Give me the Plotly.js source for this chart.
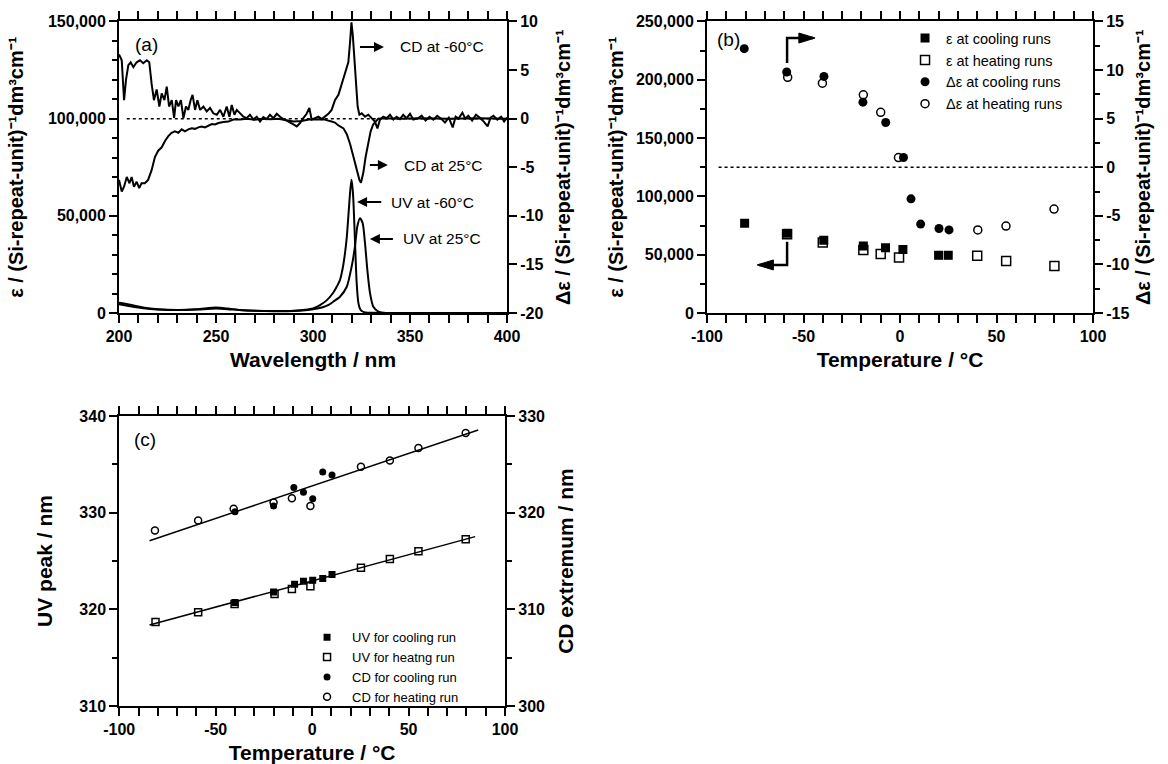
<!DOCTYPE html>
<html><head><meta charset="utf-8">
<script src="https://cdn.plot.ly/plotly-3.0.1.min.js"></script>
<style>html,body{margin:0;padding:0;background:#fff;}#chart{width:1168px;height:764px;}</style>
</head><body><div id="chart"></div>
<script>
// ---------- Panel (a): spectra ----------
const cd60Wl = [200.0,201.4,202.6,203.6,204.8,206.0,207.4,209.1,210.8,212.5,214.3,215.6,216.8,218.0,219.4,220.8,222.0,223.4,224.6,225.8,227.2,228.4,229.4,230.6,231.9,233.2,234.5,235.7,236.9,237.9,239.2,240.4,241.8,243.5,245.2,246.9,248.6,250.4,252.1,253.8,255.5,256.9,258.1,259.5,260.7,262.4,264.1,265.8,267.5,269.3,271.0,272.7,274.4,276.1,277.8,279.6,281.3,283.0,284.7,286.4,288.2,289.9,291.6,293.3,295.0,296.7,298.1,299.3,301.0,302.8,304.5,306.2,307.9,309.6,311.3,313.1,314.3,315.7,317.0,318.2,319.1,319.8,320.5,321.3,322.2,323.0,323.9,325.1,326.8,328.5,330.2,331.9,333.2,334.5,336.2,337.9,339.7,341.4,343.1,344.8,346.5,348.2,350.0,351.7,354.3,356,358,360,362,364,366,368,370,372,373.5,375,377,378.5,380,382,384,386,388,390,391.5,393,395,397,398.5,400];
const cd60Val = [6.6,6.0,1.9,4.0,5.5,5.8,5.3,5.8,6.0,5.7,6.0,5.8,3.6,1.9,3.0,1.25,2.6,1.9,3.3,1.25,1.9,0.07,1.9,1.25,1.9,0.05,1.25,0.9,1.9,2.45,0.9,1.9,0.9,1.25,0.75,1.1,0.55,0.4,0.9,0.2,1.25,0.2,1.4,0.4,0.9,0.5,0.2,0.05,0.4,-0.1,0.2,-0.3,0.15,-0.05,0.4,0.05,0.5,0.2,-0.05,-0.2,-0.45,-0.6,-0.8,-0.45,0.05,0.5,1.1,-0.1,0.05,0.2,-0.05,0.2,0.5,0.9,1.9,2.45,3.3,4.3,5.1,5.8,7.9,9.9,8.6,6.3,3.6,1.25,0.4,0.55,0.2,0.4,0.05,-0.3,-1.0,-0.1,0.2,0.05,0.4,-0.1,0.2,-0.05,0.4,0.05,0.5,-0.1,0.05,0.3,-0.2,0.2,-0.1,0.3,0.0,-0.4,0.1,-0.9,0.2,0.0,0.6,0.0,0.3,-0.2,0.4,0.1,-0.3,-0.8,0.1,0.3,-0.1,0.2,-0.3,0.1];
const cd25Wl = [200.0,201.4,202.6,204.0,205.4,206.5,207.7,209.1,210.4,211.6,213.3,215.0,216.8,218.5,220.2,222.0,223.7,225.4,227.1,228.8,230.6,232.3,234.0,235.7,237.4,239.2,240.9,242.6,244.3,246.0,247.8,249.5,251.2,253.8,256.4,258.9,262.4,266,270,274,278,282,286,290,294,298,302,306,309.6,311.3,313.1,315.7,317.4,319.1,320.8,322.5,323.9,324.7,325.9,327.1,328.5,329.7,331.0,332.4,333.6,338,345,355,370,385,400];
const cd25Val = [-6.3,-7.5,-7.0,-6.0,-6.65,-6.0,-7.0,-6.5,-7.15,-6.65,-6.65,-6.3,-5.3,-3.95,-3.3,-2.95,-2.3,-1.8,-1.45,-1.3,-1.45,-1.1,-1.3,-1.1,-1.0,-1.05,-0.9,-0.8,-0.9,-0.7,-0.55,-0.6,-0.45,-0.35,-0.3,-0.1,-0.1,0.0,-0.1,0.0,-0.05,0.0,-0.15,-0.3,-0.25,-0.1,-0.05,-0.1,-0.3,-0.4,-0.7,-1.0,-1.6,-2.6,-3.9,-5.3,-6.3,-6.6,-5.6,-3.95,-2.3,-1.3,-0.6,-0.25,0.0,0.05,0.0,0.05,0.0,0.05,0.0];
const uv60Wl = [200,203,206,210,215,220,230,240,250,256,262,270,280,290,296,300,303.6,307,310.3,312.2,313.9,315.3,316.5,317.4,318.2,319.1,319.8,320.3,320.8,321.6,322.5,323.4,324.2,325.1,327,330,340,400];
const uv60Val = [5300,4800,4200,3400,2500,2000,1600,1900,2800,2300,1600,1100,1000,1200,1700,2400,4100,6500,10300,13500,17000,23000,30900,39000,49600,62000,68500,65000,58000,37600,15400,5100,2200,1000,300,80,0,0];
const uv25Wl = [200,205,210,215,220,230,240,250,256,262,270,280,290,296,300,305,308,310.4,313.9,317.4,319.9,321.6,322.8,324.2,325.6,326.8,328.0,329.4,331.1,333.7,336,340,400];
const uv25Val = [4500,3600,2800,2200,1800,1500,1800,2300,2000,1500,1100,900,1000,1400,1900,3000,4200,5800,8400,13500,23800,34100,44400,48800,46200,35900,22100,10100,3200,700,200,0,0];
const zeroLineWl = [204, 400];
const zeroLineA = [0, 0];
const aLabelText = ['CD at -60°C', 'CD at 25°C', 'UV at -60°C', 'UV at 25°C'];
const aLabelWl = [344.3, 346.3, 339.8, 345.8];     // left edge of each label
const aArrowFarWl = [324.2, 329.3, 322.7, 329.3];  // arrow end away from label
const aArrowHeadAtLabel = [true, true, false, false];
const aArrowEps = [136900, 76150, 57100, 38080];
const aTickWl = [200, 250, 300, 350, 400];
const aTickEps = [0, 50000, 100000, 150000];
const aTickEpsText = ['0', '50,000', '100,000', '150,000'];
const aTickDe = [-20, -15, -10, -5, 0, 5, 10];
const aTickDeText = ['-20', '-15', '-10', '-5', '0', '5', '10'];

// ---------- Panel (b): epsilon vs temperature ----------
const epsCoolT = [-80.5, -58.5, -39.5, -19, -7.5, 1.5, 20, 25];
const epsCool = [77000, 68500, 62500, 57500, 56000, 54500, 49500, 49500];
const epsHeatT = [-58.5, -40, -19, -10, -0.5, 40, 55, 80];
const epsHeat = [67500, 60500, 54000, 50500, 47500, 49000, 44500, 40300];
const dEpsCoolT = [-80.7, -58.7, -39.4, -19.2, -7.4, 1.8, 5.7, 10.7, 20.2, 25.4];
const dEpsCool = [12.2, 9.8, 9.35, 6.7, 4.6, 1.0, -3.25, -5.85, -6.3, -6.45];
const dEpsHeatT = [-58.2, -40.2, -19, -10, -0.8, 40.3, 54.9, 79.8];
const dEpsHeat = [9.25, 8.65, 7.45, 5.65, 1.0, -6.45, -6.05, -4.3];
const zeroLineT = [-94, 100];
const zeroLineB = [0, 0];
const bArrowUpT = [-58.5, -58.5, -45];
const bArrowUpEps = [214300, 235800, 235800];
const bArrowDnT = [-58.5, -58.5, -73];
const bArrowDnEps = [61200, 41200, 41200];
const bArrowTipT = [-44, -74];          // where each bent arrow points to
const bArrowTipEps = [235800, 41200];
const tempTicks = [-100, -50, 0, 50, 100];
const tempTickText = ['-100', '-50', '0', '50', '100'];
const bTickEps = [0, 50000, 100000, 150000, 200000, 250000];
const bTickEpsText = ['0', '50,000', '100,000', '150,000', '200,000', '250,000'];
const bTickDe = [-15, -10, -5, 0, 5, 10, 15];
const bTickDeText = ['-15', '-10', '-5', '0', '5', '10', '15'];

// ---------- Panel (c): peak positions ----------
const uvCoolT = [-40, -20, -9.1, -4.5, 0.3, 5.5, 10.3];
const uvCool = [320.7, 321.8, 322.6, 322.9, 323.0, 323.2, 323.6];
const uvHeatT = [-81.2, -59.1, -40.2, -19.5, -10.5, -0.9, 25.3, 40.3, 55.1, 79.6];
const uvHeat = [318.7, 319.7, 320.55, 321.6, 322.1, 322.4, 324.3, 325.2, 326.0, 327.25];
const cdCoolT = [-40, -20, -9.5, -4.5, 0.3, 5.5, 10.3];
const cdCool = [320.1, 320.7, 322.6, 322.1, 321.45, 324.2, 323.9];
const cdHeatT = [-81.5, -59.1, -40.7, -20, -10.5, -0.9, 25.3, 40.3, 55.1, 79.6];
const cdHeat = [318.15, 319.2, 320.4, 321.05, 321.5, 320.7, 324.75, 325.4, 326.7, 328.25];
const fitCdT = [-84.3, 86.1];
const fitCd = [317.1, 328.55];
const fitUvT = [-84.3, 84.5];
const fitUv = [318.38, 327.52];
const cTickUv = [310, 320, 330, 340];
const cTickCd = [300, 310, 320, 330];

// ---------- styling ----------
const FONT = '"Liberation Sans", Arial, Helvetica, sans-serif';
const K = '#000';
const NB = '\u00a0';
const unitTxt = ' / (Si-repeat-unit)\u207b\u00b9dm\u00b3cm\u207b\u00b9';
const epsTitle = NB.repeat(7) + 'ε' + unitTxt;
const deTitle = 'Δε' + unitTxt;
const xPad = NB.repeat(5);

function ax(o) {
  return Object.assign({
    showline: true, linecolor: K, linewidth: 2,
    ticks: 'outside', ticklen: 8, tickwidth: 2, tickcolor: K,
    showgrid: false, zeroline: false, fixedrange: true,
    tickmode: 'array',
    tickfont: {family: FONT, size: 16, color: K, weight: 700}
  }, o);
}
function minor(dtick, tick0) {
  return {ticks: 'outside', ticklen: 5, tickwidth: 2, tickcolor: K, dtick: dtick, tick0: tick0, showgrid: false};
}
function ttl(text, standoff, size) {
  return {text: text, standoff: standoff, font: {family: FONT, size: size || 20, color: K, weight: 700}};
}

const yA = [0.5903, 0.9719];
const yC = [0.0759, 0.4555];

const layout = {
  width: 1168, height: 764,
  margin: {l: 0, r: 0, t: 0, b: 0},
  paper_bgcolor: '#fff', plot_bgcolor: '#fff',
  font: {family: FONT, color: K},
  showlegend: true,
  xaxis: ax({domain: [0.1019, 0.4341], range: [200, 400], anchor: 'y', mirror: 'allticks',
    tickvals: aTickWl, ticktext: aTickWl.map(String), minor: minor(10, 200), title: ttl(xPad + 'Wavelength / nm', 8, 21)}),
  yaxis: ax({domain: yA, range: [0, 150000], anchor: 'x',
    tickvals: aTickEps, ticktext: aTickEpsText, minor: minor(10000, 0), title: ttl(epsTitle, 19)}),
  yaxis2: ax({overlaying: 'y', side: 'right', anchor: 'x', range: [-20, 10],
    tickvals: aTickDe, ticktext: aTickDeText, title: ttl(deTitle, 14)}),
  xaxis2: ax({domain: [0.6053, 0.9358], range: [-100, 100], anchor: 'y3', mirror: 'allticks',
    tickvals: tempTicks, ticktext: tempTickText, minor: minor(10, 0), title: ttl(xPad + 'Temperature / °C', 8, 21)}),
  yaxis3: ax({domain: yA, range: [0, 250000], anchor: 'x2',
    tickvals: bTickEps, ticktext: bTickEpsText, minor: minor(25000, 0), title: ttl(epsTitle, 7)}),
  yaxis4: ax({overlaying: 'y3', side: 'right', anchor: 'x2', range: [-15, 15],
    tickvals: bTickDe, ticktext: bTickDeText, minor: minor(2.5, 0), title: ttl(deTitle, 8)}),
  xaxis3: ax({domain: [0.1021, 0.4324], range: [-100, 100], anchor: 'y5', mirror: 'allticks',
    tickvals: tempTicks, ticktext: tempTickText, minor: minor(10, 0), title: ttl(xPad + 'Temperature / °C', 9, 21)}),
  yaxis5: ax({domain: yC, range: [310, 340], anchor: 'x3',
    tickvals: cTickUv, ticktext: cTickUv.map(String), minor: minor(5, 310), title: ttl('UV peak / nm', 21, 21)}),
  yaxis6: ax({overlaying: 'y5', side: 'right', anchor: 'x3', range: [300, 330],
    tickvals: cTickCd, ticktext: cTickCd.map(String), minor: minor(5, 300), title: ttl('CD extremum / nm', 14, 21)}),
  legend: {x: 0.774, y: 0.971, xanchor: 'left', yanchor: 'top', bgcolor: 'rgba(0,0,0,0)', itemwidth: 32,
    traceorder: 'normal', font: {family: FONT, size: 14.5, color: K}, tracegroupgap: 0},
  legend2: {x: 0.2586, y: 0.1856, xanchor: 'left', yanchor: 'top', bgcolor: 'rgba(0,0,0,0)', itemwidth: 40,
    traceorder: 'grouped', font: {family: FONT, size: 13, color: K}, tracegroupgap: 0},
  annotations: [], shapes: []
};

const lbl = (text, x, y, xref, yref, size) => ({text: text, x: x, y: y, xref: xref, yref: yref,
  xanchor: 'left', yanchor: 'middle', showarrow: false, font: {family: FONT, size: size, color: K}});
layout.annotations.push(lbl('(a)', 207.2, 137900, 'x', 'y', 19));
layout.annotations.push(lbl('(b)', -95.9, 234300, 'x2', 'y3', 19));
layout.annotations.push(lbl('(c)', -93.4, 337.6, 'x3', 'y5', 19));
aLabelText.forEach((t, i) => {
  const headAtLabel = aArrowHeadAtLabel[i];
  layout.annotations.push({
    text: t, font: {family: FONT, size: 15.5, color: K},
    x: aArrowFarWl[i], y: aArrowEps[i], xref: 'x', yref: 'y',
    ax: aLabelWl[i], ay: aArrowEps[i], axref: 'x', ayref: 'y',
    xanchor: 'left', yanchor: 'middle', borderpad: 0,
    showarrow: true, arrowcolor: K, arrowwidth: 2,
    arrowside: headAtLabel ? 'start' : 'end',
    arrowhead: 2, arrowsize: 1, startarrowhead: 2, startarrowsize: 1,
    standoff: 0, startstandoff: headAtLabel ? 15 : 9
  });
});
// filled triangular heads of the bent arrows in (b): 16 px long, 10 px wide
const headLenT = 8.4, headHalfEps = 4300;
bArrowTipT.forEach((tipT, i) => {
  const dir = i === 0 ? 1 : -1;
  const baseT = tipT - dir * headLenT, e = bArrowTipEps[i];
  layout.shapes.push({type: 'path', xref: 'x2', yref: 'y3', fillcolor: K, line: {color: K, width: 1},
    path: `M${tipT},${e} L${baseT},${e + headHalfEps} L${baseT},${e - headHalfEps} Z`});
});

const line = (x, y, xa, ya, extra) => Object.assign({x: x, y: y, xaxis: xa, yaxis: ya, mode: 'lines', showlegend: false,
  hoverinfo: 'skip', line: {color: K, width: 2}}, extra || {});
const pts = (x, y, xa, ya, name, sym, size, lg, group) => ({x: x, y: y, xaxis: xa, yaxis: ya, mode: 'markers', name: name,
  legend: lg, legendgroup: group, marker: {symbol: sym, size: size, color: K,
  line: {color: K, width: sym.indexOf('open') >= 0 ? 1.5 : 0}}});

const data = [
  line(uv60Wl, uv60Val, 'x', 'y', {line: {color: K, width: 2, shape: 'spline', smoothing: 0.6}}),
  line(uv25Wl, uv25Val, 'x', 'y', {line: {color: K, width: 2, shape: 'spline', smoothing: 0.6}}),
  line(zeroLineWl, zeroLineA, 'x', 'y2', {line: {color: K, width: 1.5, dash: 'dot'}}),
  line(cd60Wl, cd60Val, 'x', 'y2'),
  line(cd25Wl, cd25Val, 'x', 'y2'),
  line(zeroLineT, zeroLineB, 'x2', 'y4', {line: {color: K, width: 1.5, dash: 'dot'}}),
  line(bArrowUpT, bArrowUpEps, 'x2', 'y3', {line: {color: K, width: 2.5}}),
  line(bArrowDnT, bArrowDnEps, 'x2', 'y3', {line: {color: K, width: 2.5}}),
  pts(epsCoolT, epsCool, 'x2', 'y3', 'ε at cooling runs', 'square', 9, 'legend', 'b1'),
  pts(epsHeatT, epsHeat, 'x2', 'y3', 'ε at heating runs', 'square-open', 9, 'legend', 'b2'),
  pts(dEpsCoolT, dEpsCool, 'x2', 'y4', 'Δε at cooling runs', 'circle', 9, 'legend', 'b3'),
  pts(dEpsHeatT, dEpsHeat, 'x2', 'y4', 'Δε at heating runs', 'circle-open', 8, 'legend', 'b4'),
  line(fitCdT, fitCd, 'x3', 'y6', {line: {color: K, width: 1.5}}),
  line(fitUvT, fitUv, 'x3', 'y5', {line: {color: K, width: 1.5}}),
  pts(uvCoolT, uvCool, 'x3', 'y5', 'UV for cooling run', 'square', 7, 'legend2', 'uv'),
  pts(uvHeatT, uvHeat, 'x3', 'y5', 'UV for heatng run', 'square-open', 7, 'legend2', 'uv'),
  pts(cdCoolT, cdCool, 'x3', 'y6', 'CD for cooling run', 'circle', 7, 'legend2', 'cd'),
  pts(cdHeatT, cdHeat, 'x3', 'y6', 'CD for heating run', 'circle-open', 7, 'legend2', 'cd')
];

Plotly.newPlot('chart', data, layout, {displayModeBar: false, staticPlot: true});
</script></body></html>
